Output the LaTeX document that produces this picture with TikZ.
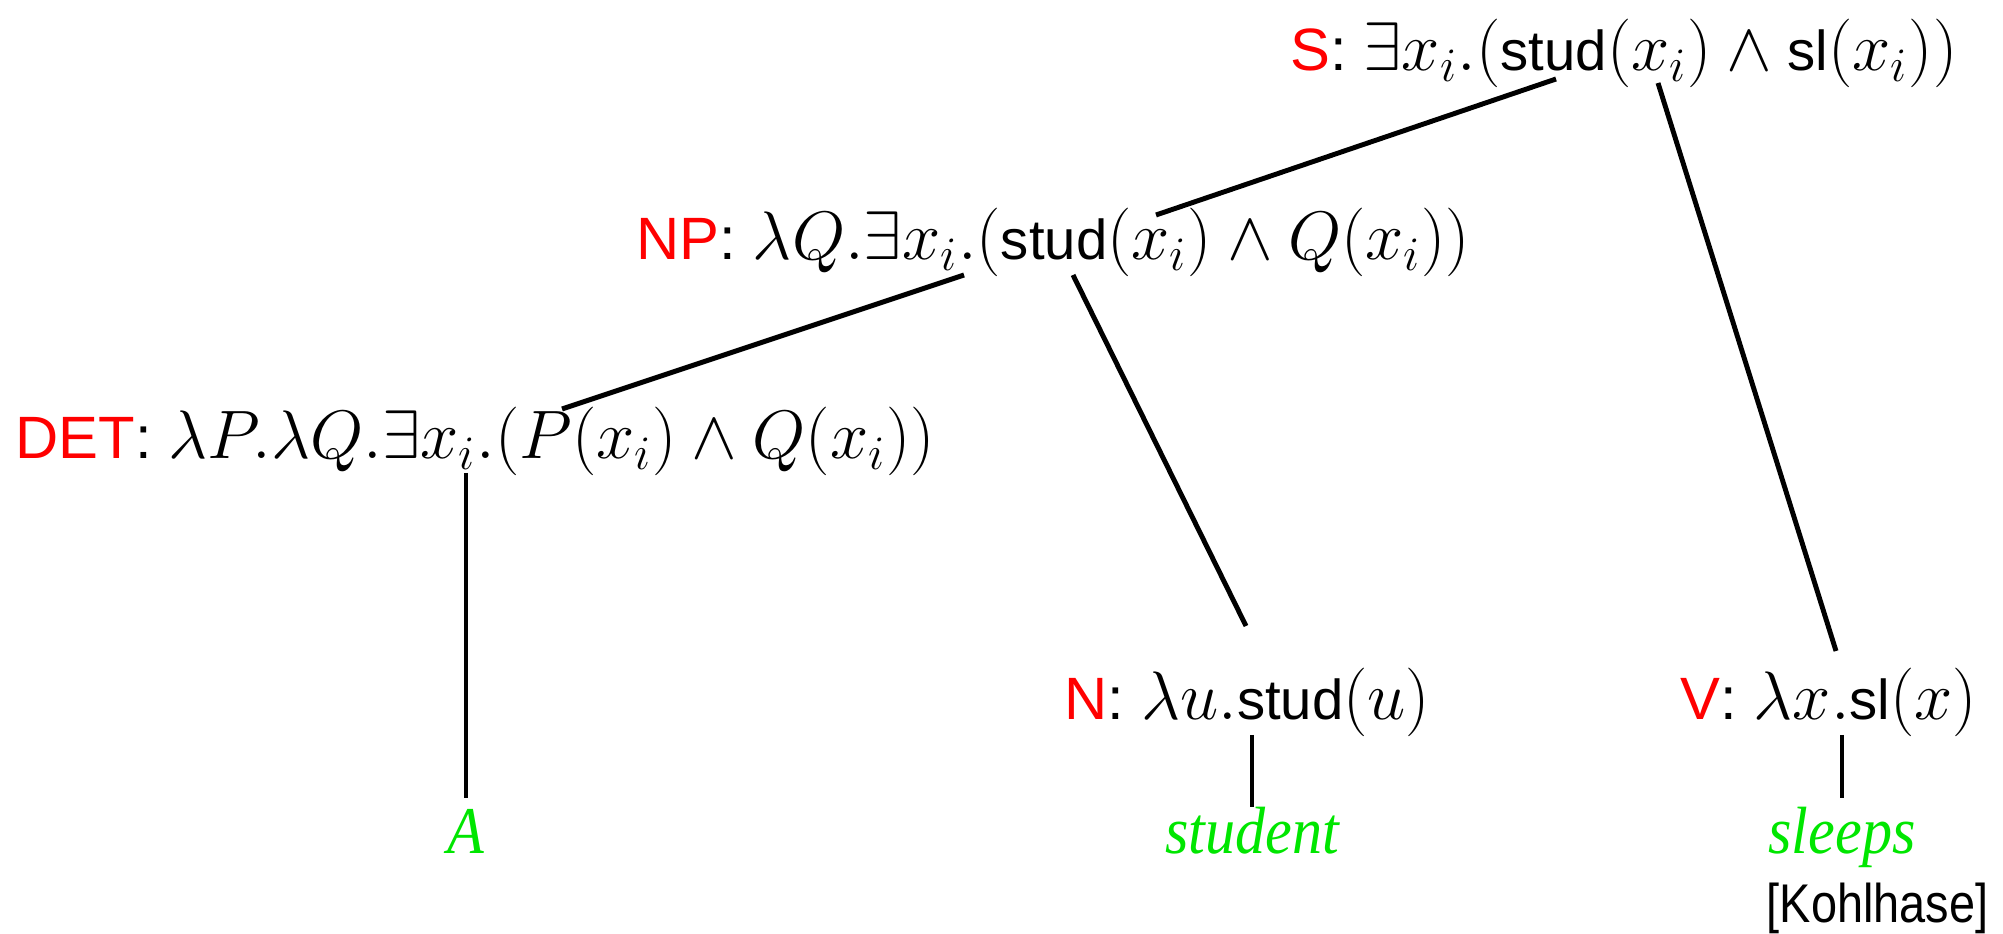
\RequirePackage{fix-cm}
\documentclass[tikz,border=0pt]{standalone}
\usepackage{fontspec}
\setsansfont{Liberation Sans}
\newfontfamily\wordfont[FakeStretch=0.9]{Liberation Serif}
\newfontfamily\citefont[FakeStretch=0.86]{Liberation Sans}
\definecolor{catred}{RGB}{255,0,0}
\definecolor{wordgreen}{RGB}{0,230,0}
\newcommand{\cat}[1]{\textcolor{catred}{#1}}
\newcommand{\pred}[1]{\textsf{\fontsize{16}{19}\selectfont #1}}
\newcommand{\lterm}[1]{{\fontsize{19.5}{22}\selectfont$#1$}}

\begin{document}
\begin{tikzpicture}[x=0.01cm,y=-0.01cm,
  sem/.style={inner sep=0pt, anchor=base west, font=\sffamily\fontsize{17}{20}\selectfont},
  word/.style={inner sep=0pt, anchor=base, text=wordgreen, font=\wordfont\itshape\fontsize{19}{22}\selectfont},
  edge/.style={line width=1.4pt}]
\useasboundingbox (0,0) rectangle (2003,934);
% semantic terms, one per tree level
\node[sem] (S) at (1290,71) {\cat{S}: \lterm{\exists x_i.(\pred{stud}(x_i) \wedge \pred{sl}(x_i))}};
\node[sem] (NP) at (636,260) {\cat{NP}: \lterm{\lambda Q.\exists x_i.(\pred{stud}(x_i) \wedge Q(x_i))}};
\node[sem] (DET) at (15,459) {\cat{DET}: \lterm{\lambda P.\lambda Q.\exists x_i.(P(x_i) \wedge Q(x_i))}};
\node[sem] (N) at (1064,719) {\cat{N}: \lterm{\lambda u.\pred{stud}(u)}};
\node[sem] (V) at (1680,719) {\cat{V}: \lterm{\lambda x.\pred{sl}(x)}};
% words
\node[word] (A) at (466,853) {A};
\node[word] (student) at (1252,853) {student};
\node[word] (sleeps) at (1842,853) {sleeps};
\node[inner sep=0pt, anchor=base east, font=\citefont\fontsize{15.5}{18}\selectfont] (cite) at (1989,922) {[Kohlhase]};
% tree edges
\draw[edge] ([shift={(266,8)}]S.base west) -- ([shift={(520,-45)}]NP.base west);
\draw[edge] ([shift={(368,12)}]S.base west) -- ([shift={(156,-68)}]V.base west);
\draw[edge] ([shift={(328,15)}]NP.base west) -- ([shift={(547,-50)}]DET.base west);
\draw[edge] ([shift={(437,15)}]NP.base west) -- ([shift={(182,-93)}]N.base west);
\draw[edge] ([shift={(451,14)}]DET.base west) -- ([shift={(0,-55)}]A.base);
\draw[edge] ([shift={(188,16)}]N.base west) -- ([shift={(0,-46)}]student.base);
\draw[edge] ([shift={(162,16)}]V.base west) -- ([shift={(0,-55)}]sleeps.base);
\end{tikzpicture}
\end{document}
